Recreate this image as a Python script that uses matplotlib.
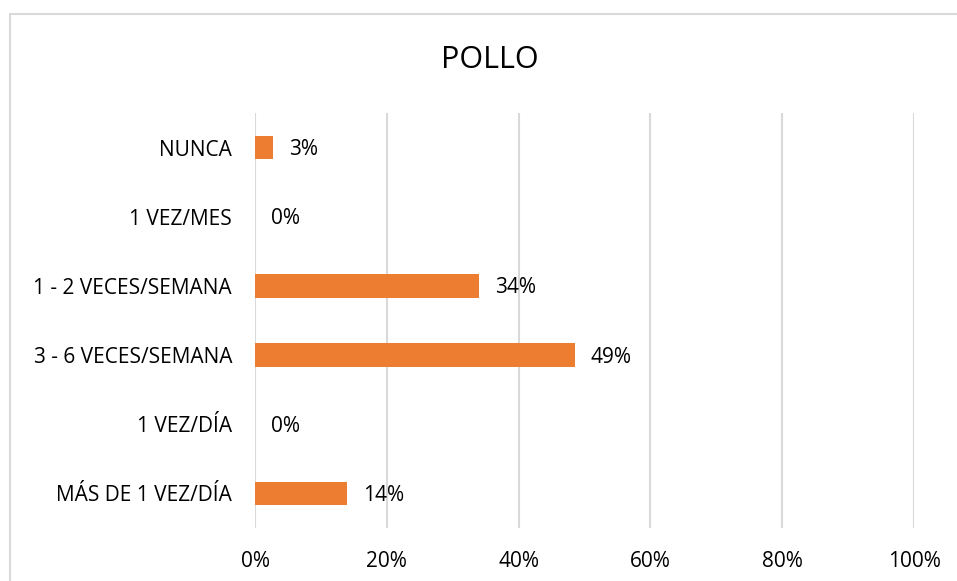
import matplotlib
matplotlib.use("Agg")
import matplotlib.pyplot as plt
from matplotlib.patches import Rectangle

# chart data (top to bottom as shown)
categories = ["NUNCA", "1 VEZ/MES", "1 - 2 VECES/SEMANA", "3 - 6 VECES/SEMANA",
              "1 VEZ/DÍA", "MÁS DE 1 VEZ/DÍA"]
values = [0.027, 0.0, 0.34, 0.485, 0.0, 0.14]
labels = ["3%", "0%", "34%", "49%", "0%", "14%"]
xticks = [0, 0.2, 0.4, 0.6, 0.8, 1.0]
xticklabels = ["0%", "20%", "40%", "60%", "80%", "100%"]

plt.rcParams['font.family'] = ['Open Sans', 'DejaVu Sans']

fig = plt.figure(figsize=(9.57, 5.81), dpi=100)
# chart border (cropped at right and bottom)
fig.patches.append(Rectangle((10 / 957, -0.1), 1.0, (581 - 14) / 581 + 0.1,
                             transform=fig.transFigure, fill=False,
                             edgecolor='#D9D9D9', linewidth=1.5))

ax = fig.add_axes([255 / 957, 53 / 581, 659 / 957, 415 / 581])
ypos = list(range(len(categories)))
ax.barh(ypos, values, height=0.34, color='#ED7D31', zorder=3)
for y, v, lab in zip(ypos, values, labels):
    ax.text(v + 0.024, y + 0.03, lab, va='center', ha='left', fontsize=15, color='#000000')

ax.set_xlim(0, 1.0)
ax.set_ylim(len(categories) - 0.5, -0.5)
ax.set_yticks(ypos)
ax.set_yticklabels(categories, fontsize=15)
ax.set_xticks(xticks)
ax.set_xticklabels(xticklabels, fontsize=15)
ax.tick_params(axis='both', length=0)
ax.tick_params(axis='y', pad=16.5)
ax.tick_params(axis='x', pad=16.5)
ax.grid(axis='x', color='#D9D9D9', linewidth=1.5, zorder=0)
for s in ax.spines.values():
    s.set_visible(False)

fig.text(490 / 957, 1 - 60 / 581, "POLLO", ha='center', va='center', fontsize=22)

fig.savefig("out.png", dpi=100)
